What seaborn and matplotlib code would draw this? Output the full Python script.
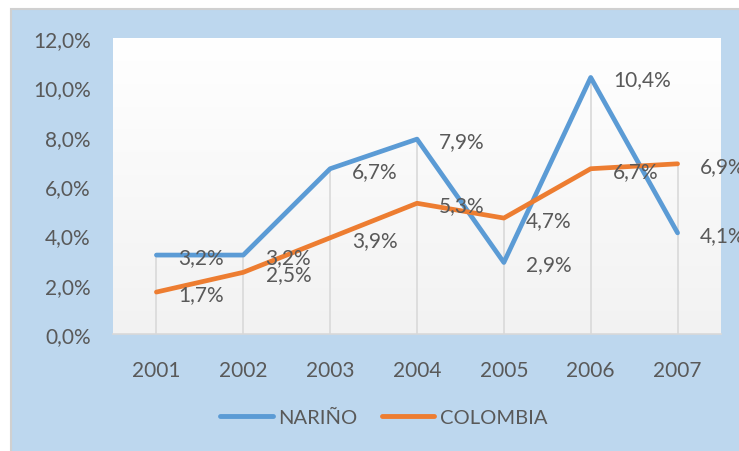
import numpy as np
import pandas as pd
import seaborn as sns
import matplotlib.pyplot as plt
from matplotlib.patches import Rectangle
from matplotlib.colors import LinearSegmentedColormap

# chart values (percent)
years = ['2001', '2002', '2003', '2004', '2005', '2006', '2007']
narino = [3.2, 3.2, 6.7, 7.9, 2.9, 10.4, 4.1]
colombia = [1.7, 2.5, 3.9, 5.3, 4.7, 6.7, 6.9]
series_names = ['NARIÑO', 'COLOMBIA']
y_ticks = [0, 2, 4, 6, 8, 10, 12]

blue = '#5B9BD5'
orange = '#ED7D31'
text_gray = '#595959'

df = pd.DataFrame({
    'pos': list(range(len(years))) * 2,
    'value': narino + colombia,
    'serie': [series_names[0]] * len(years) + [series_names[1]] * len(years),
})

sns.set_style('white')
plt.rcParams['font.family'] = ['Lato', 'DejaVu Sans']

fig = plt.figure(figsize=(7.39, 4.52), dpi=100, facecolor='white')
# light blue chart area with a thin gray border
fig.patches.append(Rectangle((11 / 739, -0.01), 1.0, 1 - 10 / 452 + 0.01,
                             transform=fig.transFigure, facecolor='#BDD7EE',
                             edgecolor='#D0D0D0', linewidth=1.5, zorder=-5))

ax = fig.add_axes([113 / 739, 1 - 335 / 452, (721 - 113) / 739, (335 - 39) / 452])
ax.set_zorder(2)

# plot area gradient white -> light gray
cmap = LinearSegmentedColormap.from_list('bg', ['#F2F2F2', '#FFFFFF'])
grad = np.linspace(0, 1, 256).reshape(-1, 1)
ax.imshow(grad, extent=[-0.5, 6.5, 0, 12], aspect='auto', cmap=cmap,
          origin='lower', zorder=0)

# drop lines
tops = [max(a, b) for a, b in zip(narino, colombia)]
ax.vlines(range(len(years)), 0, tops, color='#D9D9D9', linewidth=1.2, zorder=1)

sns.lineplot(data=df, x='pos', y='value', hue='serie', palette=[blue, orange],
             linewidth=3.4, ax=ax, legend=False, zorder=3)

# data labels
for vals in (narino, colombia):
    for i, v in enumerate(vals):
        ax.annotate(f'{v:.1f}%'.replace('.', ','), (i, v), xytext=(16, -1.5),
                    textcoords='offset points', ha='left', va='center',
                    fontsize=15, color=text_gray, zorder=4)

ax.set_xlim(-0.5, 6.5)
ax.set_ylim(0, 12)
ax.set_xticks(range(len(years)))
ax.set_xticklabels(years)
ax.set_yticks(y_ticks)
ax.set_yticklabels([f'{t:.1f}%'.replace('.', ',') for t in y_ticks])
ax.tick_params(axis='both', length=0, labelsize=15, labelcolor=text_gray)
ax.tick_params(axis='y', pad=16)
ax.tick_params(axis='x', pad=19)
ax.set_xlabel('')
ax.set_ylabel('')
for s in ['left', 'right', 'top']:
    ax.spines[s].set_visible(False)
ax.spines['bottom'].set_color('#D9D9D9')
ax.spines['bottom'].set_linewidth(1.2)

handles = [plt.Line2D([], [], color=blue, linewidth=3.5, solid_capstyle='round'),
           plt.Line2D([], [], color=orange, linewidth=3.5, solid_capstyle='round')]
leg = fig.legend(handles, series_names, loc='center', bbox_to_anchor=(384 / 739, 1 - 418 / 452),
                 ncol=2, frameon=False, fontsize=14.5, handlelength=2.6,
                 handletextpad=0.3, columnspacing=1.2)
for t in leg.get_texts():
    t.set_color(text_gray)

fig.savefig('out.png', dpi=100, facecolor=fig.get_facecolor())
